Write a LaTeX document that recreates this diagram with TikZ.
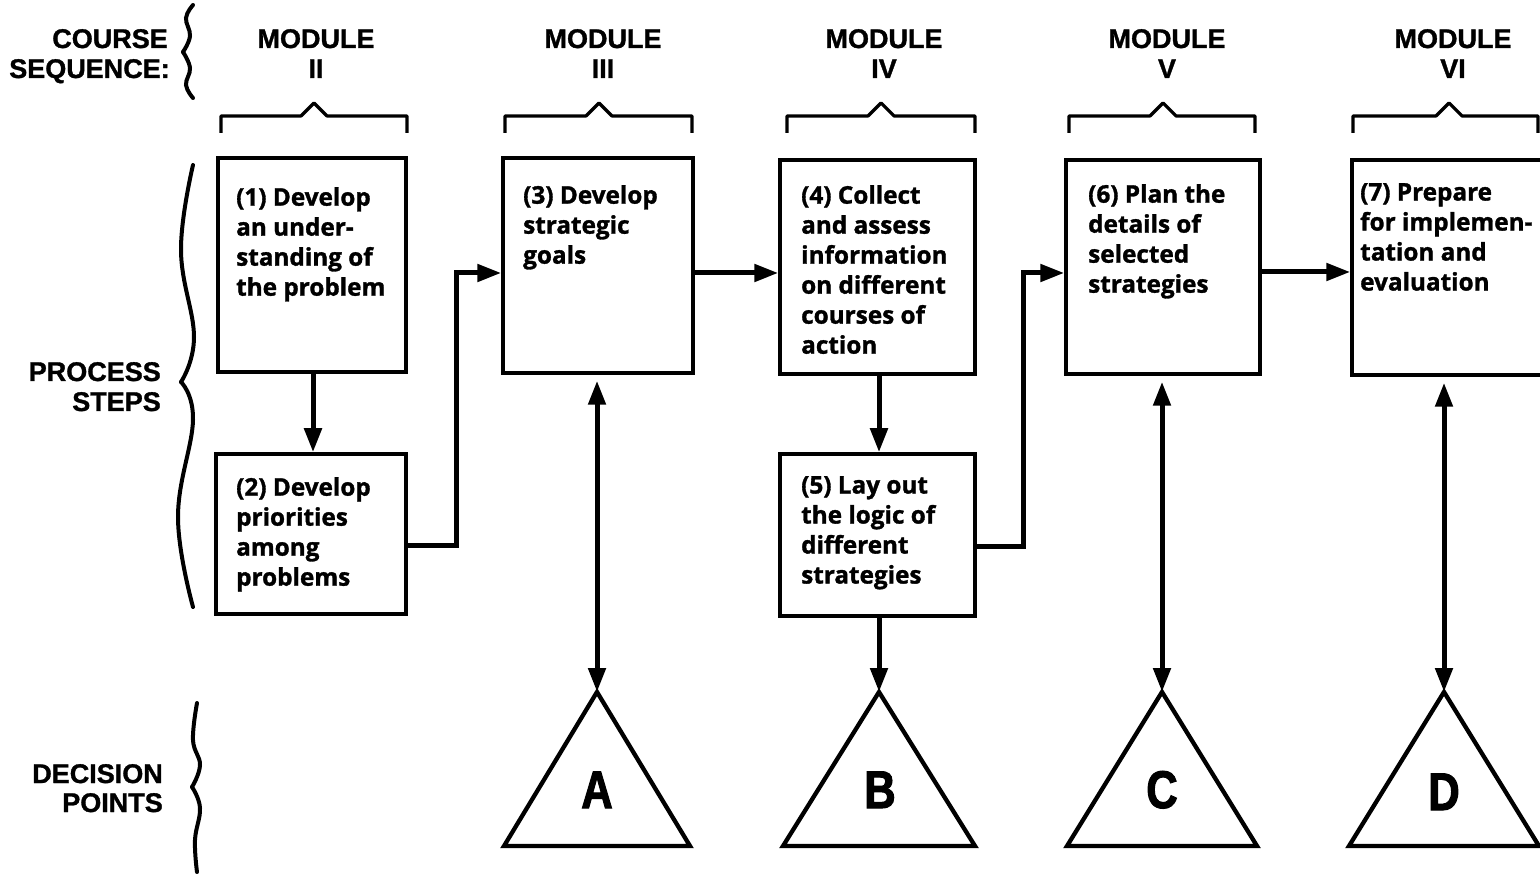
\documentclass[tikz,border=0pt]{standalone}
\usepackage{fontspec}
\usetikzlibrary{arrows.meta,calc}
\newfontfamily\headfont{Liberation Sans}[FakeBold=1.2]
\newfontfamily\stepfont{Open Sans}[FakeBold=1.3]
\newfontfamily\letterfont{Liberation Sans}[FakeStretch=0.82,FakeBold=2]

\begin{document}
\begin{tikzpicture}[x=1pt,y=-1pt,
  stepbox/.style={draw, line width=3.5pt, inner sep=0pt},
  steptext/.style={anchor=north west, inner sep=0pt, align=left,
    font={\stepfont\bfseries\fontsize{24.3}{30}\selectfont}},
  head/.style={anchor=base, inner sep=0pt,
    font={\headfont\bfseries\fontsize{27}{30}\selectfont}},
  side/.style={anchor=base east, inner sep=0pt,
    font={\headfont\bfseries\fontsize{27}{30}\selectfont}},
  letter/.style={anchor=base, inner sep=0pt,
    font={\letterfont\bfseries\fontsize{53}{60}\selectfont}},
  tip/.tip={Triangle[length=24pt,width=17pt]},
  flow/.style={line width=5pt, -tip},
  twoway/.style={line width=5pt, tip-tip},
  decision/.style={draw, line width=4.3pt, line join=miter},
  bracketline/.style={line width=3.2pt, line join=round},
  braceline/.style={line width=4pt, line cap=round}
]
\useasboundingbox (0,0) rectangle (1540,874);
\fill[white] (0,0) rectangle (1540,874);
\clip (0,0) rectangle (1540,874);

% ---- row labels ----
\node[side] (cs1) at (168,48) {COURSE};
\node[side] (cs2) at (170,78) {SEQUENCE:};
\node[side] (ps1) at (161,381) {PROCESS};
\node[side] (ps2) at (161,411) {STEPS};
\node[side] (dp1) at (163,783) {DECISION};
\node[side] (dp2) at (163,812) {POINTS};

% ---- braces ----
\draw[braceline] plot[smooth, tension=0.7] coordinates {(193,5) (186,18) (190,36) (183,52)};
\draw[braceline] plot[smooth, tension=0.7] coordinates {(183,52) (190,68) (186,85) (193,98)};
\draw[braceline] plot[smooth, tension=0.7] coordinates {(193,165) (181,250) (194,337) (181,382)};
\draw[braceline] plot[smooth, tension=0.7] coordinates {(181,382) (193,420) (178,517) (193,607)};
\draw[braceline] plot[smooth, tension=0.7] coordinates {(197,703) (193,740) (200,765) (192,787)};
\draw[braceline] plot[smooth, tension=0.7] coordinates {(192,787) (200,808) (195,840) (197,872)};

% ---- module headings ----
\node[head] (m2a) at (316,48) {MODULE};
\node[head] (m2b) at (316,78) {II};
\node[head] (m3a) at (603,48) {MODULE};
\node[head] (m3b) at (603,78) {III};
\node[head] (m4a) at (884,48) {MODULE};
\node[head] (m4b) at (884,78) {IV};
\node[head] (m5a) at (1167,48) {MODULE};
\node[head] (m5b) at (1167,78) {V};
\node[head] (m6a) at (1453,48) {MODULE};
\node[head] (m6b) at (1453,78) {VI};

% ---- module brackets ----
\foreach \l/\c/\r in {221/314/407, 505/599/692, 787/881/975, 1069/1163/1255, 1353/1449/1538}
  \draw[bracketline] (\l,133) -- (\l,116) -- (\c-13,116) -- (\c,103) -- (\c+13,116) -- (\r,116) -- (\r,133);

% ---- process steps ----
\node[stepbox, minimum width=188pt, minimum height=214pt] (b1) at (312,265) {};
\node[stepbox, minimum width=190pt, minimum height=160pt] (b2) at (311,534) {};
\node[stepbox, minimum width=190pt, minimum height=215pt] (b3) at (598,265.5) {};
\node[stepbox, minimum width=195pt, minimum height=214pt] (b4) at (877.5,267) {};
\node[stepbox, minimum width=195pt, minimum height=162pt] (b5) at (877.5,535) {};
\node[stepbox, minimum width=194pt, minimum height=214pt] (b6) at (1163,267) {};
\node[stepbox, minimum width=193pt, minimum height=215pt] (b7) at (1448.5,267.5) {};

\node[steptext] (t1) at (236,187) {(1) Develop\\an under-\\standing of\\the problem};
\node[steptext] (t2) at (236,477) {(2) Develop\\priorities\\among\\problems};
\node[steptext] (t3) at (523,185) {(3) Develop\\strategic\\goals};
\node[steptext] (t4) at (801,185) {(4) Collect\\and assess\\information\\on different\\courses of\\action};
\node[steptext] (t5) at (801,476) {(5) Lay out\\the logic of\\different\\strategies};
\node[steptext] (t6) at (1088,184) {(6) Plan the\\details of\\selected\\strategies};
\node[steptext] (t7) at (1360,183) {(7) Prepare\\for implemen-\\tation and\\evaluation};

% ---- decision points ----
\coordinate (tA) at (597,692);
\coordinate (tB) at (879,692);
\coordinate (tC) at (1162,692);
\coordinate (tD) at (1444,692);
\draw[decision] (tA) -- (690,846) -- (504,846) -- cycle;
\draw[decision] (tB) -- (975,846) -- (783,846) -- cycle;
\draw[decision] (tC) -- (1257,846) -- (1067,846) -- cycle;
\draw[decision] (tD) -- (1539,846) -- (1349,846) -- cycle;
\node[letter] (lA) at (597,808) {A};
\node[letter] (lB) at (880,808) {B};
\node[letter] (lC) at (1162,808) {C};
\node[letter] (lD) at (1444,810) {D};

% ---- flow between steps ----
\draw[flow] (b1.south -| 313,0) -- (b2.north -| 313,0);
\draw[flow] (b2.east |- 0,545) -- (456,545) |- (b3.west |- 0,273);
\draw[flow] (b3.east |- 0,273) -- (b4.west |- 0,273);
\draw[flow] (b4.south -| tB) -- (b5.north -| tB);
\draw[flow] (b5.east |- 0,546) -- (1023,546) |- (b6.west |- 0,273);
\draw[flow] (b6.east |- 0,272) -- (b7.west |- 0,272);

% ---- links to decision points ----
\draw[twoway] ($(b3.south -| tA)+(0,6)$) -- (tA);
\draw[flow] (b5.south -| tB) -- (tB);
\draw[twoway] ($(b6.south -| tC)+(0,6)$) -- (tC);
\draw[twoway] ($(b7.south -| tD)+(0,6)$) -- (tD);
\end{tikzpicture}
\end{document}
